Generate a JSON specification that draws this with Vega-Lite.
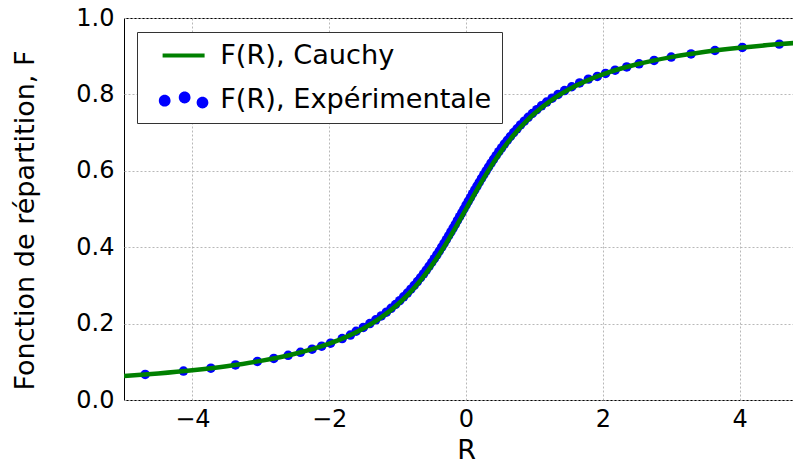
{
  "$schema": "https://vega.github.io/schema/vega-lite/v6.json",
  "autosize": "none",
  "width": 684,
  "height": 382,
  "padding": {"left": 124, "top": 18, "right": 0, "bottom": 65},
  "background": "white",
  "config": {
    "font": "DejaVu Sans",
    "view": {"stroke": "black", "strokeWidth": 1},
    "axis": {
      "labelFont": "DejaVu Sans", "labelFontSize": 24, "labelColor": "black",
      "titleFont": "DejaVu Sans", "titleFontSize": 27, "titleFontWeight": "normal", "titleColor": "black",
      "domain": false, "ticks": false,
      "grid": true, "gridColor": "#b8b8b8", "gridDash": [2, 2], "gridWidth": 1
    }
  },
  "datasets": {
    "cauchy": [
      {"R": -5, "F": 0.0628}, {"R": -4.5, "F": 0.0696}, {"R": -4, "F": 0.078}, {"R": -3.5, "F": 0.0886},
      {"R": -3, "F": 0.1024}, {"R": -2.5, "F": 0.1211}, {"R": -2, "F": 0.1476}, {"R": -1.75, "F": 0.1652},
      {"R": -1.5, "F": 0.1872}, {"R": -1.25, "F": 0.2148}, {"R": -1, "F": 0.25}, {"R": -0.875, "F": 0.2712},
      {"R": -0.75, "F": 0.2952}, {"R": -0.625, "F": 0.3221}, {"R": -0.5, "F": 0.3524}, {"R": -0.375, "F": 0.3858},
      {"R": -0.25, "F": 0.422}, {"R": -0.125, "F": 0.4604}, {"R": 0, "F": 0.5}, {"R": 0.125, "F": 0.5396},
      {"R": 0.25, "F": 0.578}, {"R": 0.375, "F": 0.6142}, {"R": 0.5, "F": 0.6476}, {"R": 0.625, "F": 0.6779},
      {"R": 0.75, "F": 0.7048}, {"R": 0.875, "F": 0.7288}, {"R": 1, "F": 0.75}, {"R": 1.25, "F": 0.7852},
      {"R": 1.5, "F": 0.8128}, {"R": 1.75, "F": 0.8348}, {"R": 2, "F": 0.8524}, {"R": 2.5, "F": 0.8789},
      {"R": 3, "F": 0.8976}, {"R": 3.5, "F": 0.9114}, {"R": 4, "F": 0.922}, {"R": 4.5, "F": 0.9304},
      {"R": 5, "F": 0.9372}
    ],
    "exp": [
      {"R": -4.69, "F": 0.0669}, {"R": -4.13, "F": 0.0757}, {"R": -3.73, "F": 0.0833}, {"R": -3.37, "F": 0.0919},
      {"R": -3.05, "F": 0.1009}, {"R": -2.81, "F": 0.1087}, {"R": -2.6, "F": 0.1169}, {"R": -2.42, "F": 0.1247},
      {"R": -2.25, "F": 0.1331}, {"R": -2.11, "F": 0.1409}, {"R": -1.98, "F": 0.1488}, {"R": -1.81, "F": 0.1608},
      {"R": -1.69, "F": 0.1701},
      {"R": -1.606, "F": 0.18}, {"R": -1.501, "F": 0.19}, {"R": -1.406, "F": 0.2}, {"R": -1.319, "F": 0.21},
      {"R": -1.239, "F": 0.22}, {"R": -1.164, "F": 0.23}, {"R": -1.095, "F": 0.24}, {"R": -1.03, "F": 0.25},
      {"R": -0.969, "F": 0.26}, {"R": -0.912, "F": 0.27}, {"R": -0.857, "F": 0.28}, {"R": -0.806, "F": 0.29},
      {"R": -0.757, "F": 0.3}, {"R": -0.71, "F": 0.31}, {"R": -0.665, "F": 0.32}, {"R": -0.621, "F": 0.33},
      {"R": -0.58, "F": 0.34}, {"R": -0.54, "F": 0.35}, {"R": -0.501, "F": 0.36}, {"R": -0.463, "F": 0.37},
      {"R": -0.426, "F": 0.38}, {"R": -0.39, "F": 0.39}, {"R": -0.355, "F": 0.4}, {"R": -0.321, "F": 0.41},
      {"R": -0.287, "F": 0.42}, {"R": -0.254, "F": 0.43}, {"R": -0.221, "F": 0.44}, {"R": -0.188, "F": 0.45},
      {"R": -0.156, "F": 0.46}, {"R": -0.125, "F": 0.47}, {"R": -0.093, "F": 0.48}, {"R": -0.061, "F": 0.49},
      {"R": -0.03, "F": 0.5}, {"R": 0.001, "F": 0.51}, {"R": 0.033, "F": 0.52}, {"R": 0.065, "F": 0.53},
      {"R": 0.096, "F": 0.54}, {"R": 0.128, "F": 0.55}, {"R": 0.161, "F": 0.56}, {"R": 0.194, "F": 0.57},
      {"R": 0.227, "F": 0.58}, {"R": 0.261, "F": 0.59}, {"R": 0.295, "F": 0.6}, {"R": 0.33, "F": 0.61},
      {"R": 0.366, "F": 0.62}, {"R": 0.403, "F": 0.63}, {"R": 0.441, "F": 0.64}, {"R": 0.48, "F": 0.65},
      {"R": 0.52, "F": 0.66}, {"R": 0.561, "F": 0.67}, {"R": 0.605, "F": 0.68}, {"R": 0.65, "F": 0.69},
      {"R": 0.697, "F": 0.7}, {"R": 0.746, "F": 0.71}, {"R": 0.797, "F": 0.72}, {"R": 0.852, "F": 0.73},
      {"R": 0.909, "F": 0.74}, {"R": 0.97, "F": 0.75}, {"R": 1.035, "F": 0.76}, {"R": 1.104, "F": 0.77},
      {"R": 1.179, "F": 0.78}, {"R": 1.259, "F": 0.79}, {"R": 1.346, "F": 0.8}, {"R": 1.441, "F": 0.81},
      {"R": 1.546, "F": 0.82}, {"R": 1.661, "F": 0.83}, {"R": 1.789, "F": 0.84}, {"R": 1.92, "F": 0.847},
      {"R": 2.04, "F": 0.855}, {"R": 2.18, "F": 0.8633}, {"R": 2.35, "F": 0.8719}, {"R": 2.53, "F": 0.88},
      {"R": 2.75, "F": 0.889}, {"R": 3.0, "F": 0.8976}, {"R": 3.29, "F": 0.906}, {"R": 3.64, "F": 0.9149},
      {"R": 4.04, "F": 0.9229}, {"R": 4.58, "F": 0.9316}
    ]
  },
  "layer": [
    {
      "data": {"name": "exp"},
      "transform": [{"calculate": "'F(R), Expérimentale'", "as": "serie"}],
      "mark": {"type": "point", "filled": true, "size": 90, "opacity": 1, "clip": true},
      "encoding": {
        "x": {"field": "R", "type": "quantitative", "scale": {"domain": [-5, 5], "nice": false, "zero": false},
              "axis": {"title": "R", "values": [-4, -2, 0, 2, 4], "format": "d", "labelPadding": 7, "titlePadding": 6}},
        "y": {"field": "F", "type": "quantitative", "scale": {"domain": [0, 1], "nice": false},
              "axis": {"title": "Fonction de répartition, F", "values": [0, 0.2, 0.4, 0.6, 0.8, 1], "format": ".1f", "labelPadding": 10, "titlePadding": 36, "titleY": 202}},
        "color": {
          "field": "serie", "type": "nominal",
          "scale": {"domain": ["F(R), Cauchy", "F(R), Expérimentale"], "range": ["#008000", "#0000ff"]},
          "legend": {
            "orient": "none", "legendX": 13, "legendY": 14, "title": null,
            "strokeColor": "#333333", "fillColor": "white", "padding": 10,
            "labelFont": "DejaVu Sans", "labelFontSize": 27.2, "labelColor": "black", "labelLimit": 400,
            "symbolSize": 1764, "labelOffset": 23, "rowPadding": 16, "symbolOffset": 23,
            "encoding": {"symbols": {
              "shape": {"value": {"expr": "datum.value === 'F(R), Cauchy' ? 'M-1,0H1' : 'M-1.18,0.05A0.28,0.28 0 1,0 -0.62,0.05A0.28,0.28 0 1,0 -1.18,0.05Z M-0.23,-0.1A0.28,0.28 0 1,0 0.33,-0.1A0.28,0.28 0 1,0 -0.23,-0.1Z M0.62,0.14A0.28,0.28 0 1,0 1.18,0.14A0.28,0.28 0 1,0 0.62,0.14Z'"}},
              "fill": {"value": {"expr": "datum.value === 'F(R), Cauchy' ? 'transparent' : '#0000ff'"}},
              "stroke": {"value": {"expr": "datum.value === 'F(R), Cauchy' ? '#008000' : 'transparent'"}},
              "strokeWidth": {"value": {"expr": "datum.value === 'F(R), Cauchy' ? 4 : 0"}},
              "opacity": {"value": 1}
            }}
          }
        }
      }
    },
    {
      "data": {"name": "cauchy"},
      "transform": [{"calculate": "'F(R), Cauchy'", "as": "serie"}],
      "mark": {"type": "line", "strokeWidth": 4.5, "interpolate": "monotone", "clip": true},
      "encoding": {
        "x": {"field": "R", "type": "quantitative"},
        "y": {"field": "F", "type": "quantitative"},
        "color": {"field": "serie", "type": "nominal"}
      }
    }
  ]
}
